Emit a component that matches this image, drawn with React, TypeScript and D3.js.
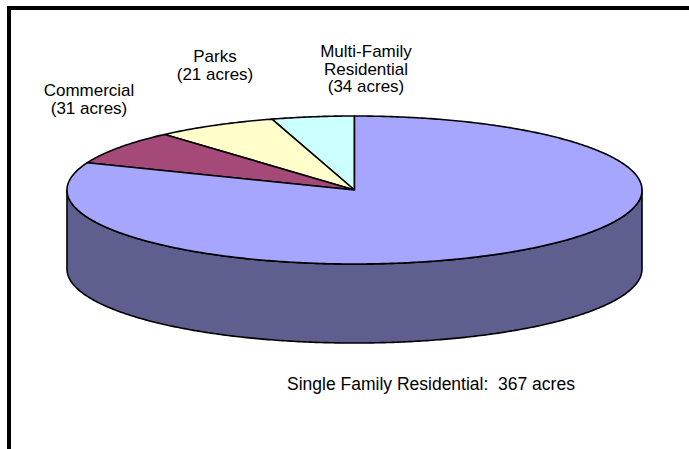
import React from "react";
import * as d3 from "d3";

// Slices in drawing order, counter-clockwise from 12 o'clock
const sliceNames = ["Slice A", "Slice B", "Slice C", "Single Family Residential"];
const sliceValues = [21, 31, 34, 367];
const sliceColors = ["#CCFFFF", "#FFFFCC", "#A54A78", "#A6A6FF"];
const sideColor = "#5F5F8F";

// Annotation labels
const labelLines = [
  ["Commercial", "(31 acres)"],
  ["Parks", "(21 acres)"],
  ["Multi-Family", "Residential", "(34 acres)"],
];
const bottomLabel = "Single Family Residential:  367 acres";

const W = 689;
const H = 449;
const cx = 354.5;
const cy = 190;
const rx = 287.5;
const ry = 74;
const depth = 79;

const pt = (a: number, dy = 0): [number, number] => [cx - rx * Math.sin(a), cy - ry * Math.cos(a) + dy];

export default function App() {
  const pie = d3.pie<number>().sort(null).value((d) => d);
  const arcs = pie(sliceValues);
  const line = d3.line();

  const arcPts = (a0: number, a1: number, dy = 0) => {
    const n = Math.max(2, Math.ceil(Math.abs(a1 - a0) / 0.01));
    return d3.range(n + 1).map((i) => pt(a0 + ((a1 - a0) * i) / n, dy));
  };

  const top = arcPts(Math.PI / 2, (3 * Math.PI) / 2);
  const bottom = arcPts((3 * Math.PI) / 2, Math.PI / 2, depth);
  const sidePath = line([...top, ...bottom]) + "Z";

  const labelPos = [
    { x: 89, y: 96 },
    { x: 215, y: 62 },
    { x: 366, y: 57 },
  ];
  const lh = 17.5;

  return (
    <svg width={W} height={H} style={{ position: "absolute", left: 0, top: 0 }} fontFamily="Liberation Sans, Arial, sans-serif">
      <rect x={0} y={0} width={W} height={H} fill="#fff" />
      <path d={sidePath} fill={sideColor} stroke="#000" strokeWidth={1.6} strokeLinejoin="round" />
      {arcs.map((a, i) => (
        <path
          key={sliceNames[i]}
          d={line([[cx, cy], ...arcPts(a.startAngle, a.endAngle)]) + "Z"}
          fill={sliceColors[i]}
          stroke="#000"
          strokeWidth={1.6}
          strokeLinejoin="round"
        />
      ))}
      {labelLines.map((lines, i) =>
        lines.map((t, j) => (
          <text
            key={i + "-" + j}
            x={labelPos[i].x}
            y={labelPos[i].y + j * lh}
            textAnchor="middle"
            fontSize={17}
            fill="#000"
          >
            {t}
          </text>
        ))
      )}
      <text x={287} y={390} fontSize={17.5} fill="#000" style={{ whiteSpace: "pre" }}>
        {bottomLabel}
      </text>
      <rect x={9} y={8} width={W + 20} height={H + 20} fill="none" stroke="#000" strokeWidth={4} />
    </svg>
  );
}
